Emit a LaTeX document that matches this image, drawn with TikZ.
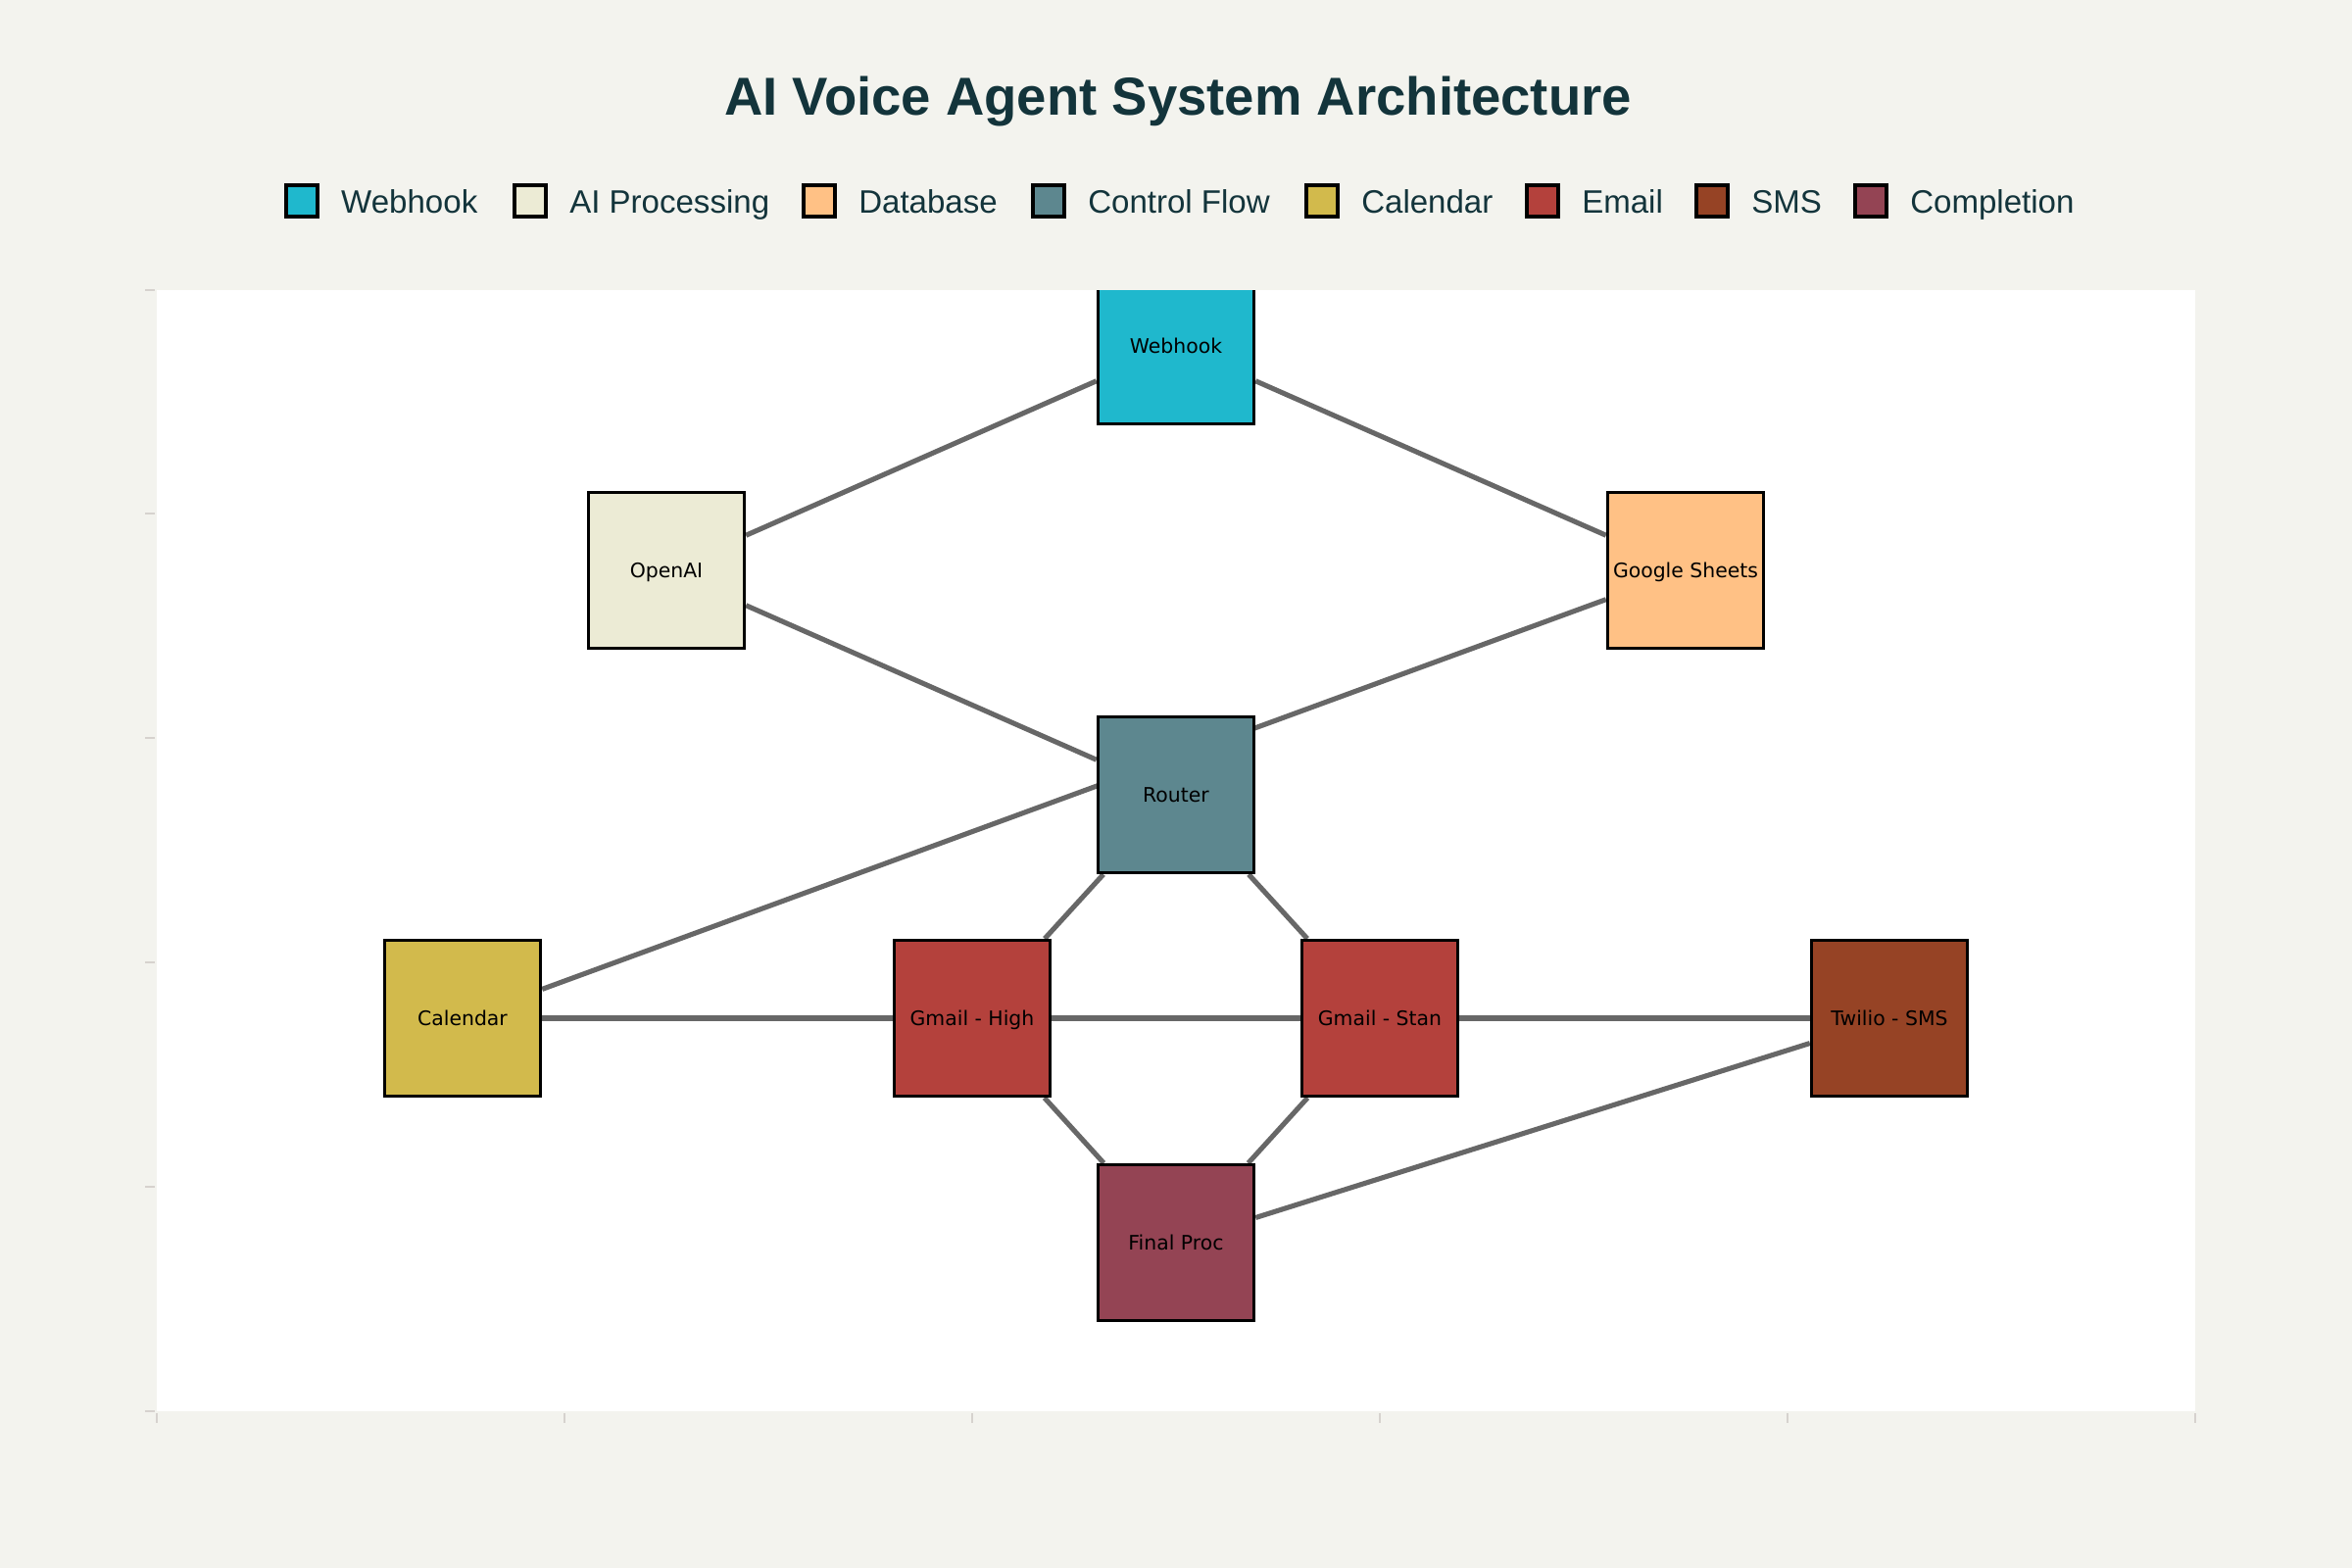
\documentclass[tikz,border=0pt]{standalone}
\usepackage{fontspec}
\usepackage{xcolor}
\usepackage{tikz}
\usetikzlibrary{positioning, backgrounds}
\pgfdeclarelayer{canvas}
\pgfsetlayers{canvas,background,main}

\newfontfamily\headfont{Liberation Sans}
\newfontfamily\boxfont{DejaVu Sans}

\definecolor{pagebg}{HTML}{F3F3EE}
\definecolor{titleteal}{HTML}{13343B}
\definecolor{linkgray}{HTML}{676767}
\definecolor{tickgray}{HTML}{D6D2CE}
\definecolor{webhookc}{HTML}{1FB8CD}
\definecolor{aic}{HTML}{ECEBD5}
\definecolor{dbc}{HTML}{FFC185}
\definecolor{ctrlc}{HTML}{5D878F}
\definecolor{calc}{HTML}{D2BA4C}
\definecolor{mailc}{HTML}{B4413C}
\definecolor{smsc}{HTML}{964325}
\definecolor{donec}{HTML}{944454}

\begin{document}
\begin{tikzpicture}[x=0.01cm, y=-0.01cm,
    comp/.style={rectangle, draw=black, line width=0.95pt, minimum width=1.59cm, minimum height=1.59cm, inner sep=0pt, text height=0.7em, text depth=0.25em, font=\boxfont\fontsize{5.8}{7}\selectfont},
    link/.style={draw=linkgray, line width=1.45pt},
    key/.style={rectangle, draw=black, line width=0.95pt, minimum size=0.317cm, inner sep=0pt},
    keylabel/.style={inner sep=0pt, text height=0.716em, text depth=0pt, text=titleteal, font=\headfont\fontsize{9.4}{11}\selectfont},
    tick/.style={draw=tickgray, line width=0.6pt}
]
% page and plot area
\begin{pgfonlayer}{canvas}
\fill[pagebg] (0,0) rectangle (2400,1600);
\fill[white] (160,296) rectangle (2240,1440);
\draw[tick] (148,296) -- (158,296) (148,524) -- (158,524) (148,753) -- (158,753)
    (148,982) -- (158,982) (148,1211) -- (158,1211) (148,1440) -- (158,1440);
\draw[tick] (160,1442) -- (160,1452) (576,1442) -- (576,1452) (992,1442) -- (992,1452)
    (1408,1442) -- (1408,1452) (1824,1442) -- (1824,1452) (2240,1442) -- (2240,1452);
\end{pgfonlayer}

\node[font=\headfont\bfseries\fontsize{15.5}{18}\selectfont, text=titleteal, anchor=base] (title) at (1202,118) {AI Voice Agent System Architecture};

% legend
\node[key, fill=webhookc] (keywebhook) at (308,205) {};
\node[keylabel, right=0.22cm of keywebhook] (labwebhook) {Webhook};
\node[key, fill=aic] (keyai) at (541,205) {};
\node[keylabel, right=0.22cm of keyai] (labai) {AI Processing};
\node[key, fill=dbc] (keydb) at (836,205) {};
\node[keylabel, right=0.22cm of keydb] (labdb) {Database};
\node[key, fill=ctrlc] (keyctrl) at (1070,205) {};
\node[keylabel, right=0.22cm of keyctrl] (labctrl) {Control Flow};
\node[key, fill=calc] (keycal) at (1349,205) {};
\node[keylabel, right=0.22cm of keycal] (labcal) {Calendar};
\node[key, fill=mailc] (keymail) at (1574,205) {};
\node[keylabel, right=0.22cm of keymail] (labmail) {Email};
\node[key, fill=smsc] (keysms) at (1747,205) {};
\node[keylabel, right=0.22cm of keysms] (labsms) {SMS};
\node[key, fill=donec] (keydone) at (1909,205) {};
\node[keylabel, right=0.22cm of keydone] (labdone) {Completion};

% components
\begin{scope}
\clip (160,296) rectangle (2240,1440);
\node[comp, fill=webhookc] (webhook) at (1200,353) {Webhook};
\node[comp, fill=aic] (openai) at (680,582) {OpenAI};
\node[comp, fill=dbc] (sheets) at (1720,582) {Google Sheets};
\node[comp, fill=ctrlc] (router) at (1200,811) {Router};
\node[comp, fill=calc] (calendar) at (472,1039) {Calendar};
\node[comp, fill=mailc] (gmailhigh) at (992,1039) {Gmail - High};
\node[comp, fill=mailc] (gmailstan) at (1408,1039) {Gmail - Stan};
\node[comp, fill=smsc] (twilio) at (1928,1039) {Twilio - SMS};
\node[comp, fill=donec] (finalproc) at (1200,1268) {Final Proc};
\end{scope}

% connectors, under the boxes
\begin{scope}[on background layer]
\draw[link] (webhook) -- (openai);
\draw[link] (webhook) -- (sheets);
\draw[link] (openai) -- (router);
\draw[link] (sheets) -- (calendar);
\draw[link] (router) -- (gmailhigh);
\draw[link] (router) -- (gmailstan);
\draw[link] (calendar) -- (gmailhigh);
\draw[link] (gmailhigh) -- (gmailstan);
\draw[link] (gmailstan) -- (twilio);
\draw[link] (gmailhigh) -- (finalproc);
\draw[link] (gmailstan) -- (finalproc);
\draw[link] (twilio) -- (finalproc);
\end{scope}
\end{tikzpicture}
\end{document}
